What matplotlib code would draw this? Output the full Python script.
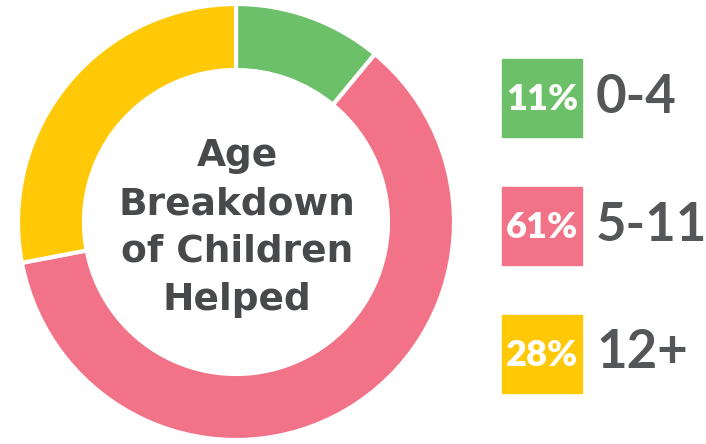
import matplotlib.pyplot as plt
from matplotlib.patches import Rectangle

# data
groups = ["0-4", "5-11", "12+"]
shares = [11, 61, 28]
colors = ["#6cc069", "#f27287", "#ffc907"]
center_title = "Age\nBreakdown\nof Children\nHelped"

W, H = 706, 444
fig = plt.figure(figsize=(W / 100, H / 100), dpi=100)
ax = fig.add_axes([0, 0, 1, 1])

# donut
ax.pie(
    shares,
    colors=colors,
    startangle=90,
    counterclock=False,
    center=(236, H - 222),
    radius=218,
    wedgeprops=dict(width=66, edgecolor="white", linewidth=3),
    frame=True,
)
ax.set_xlim(0, W)
ax.set_ylim(0, H)
ax.set_aspect("equal")
ax.axis("off")

ax.text(237, H - 228, center_title, ha="center", va="center",
        fontsize=27, fontweight="bold", color="#48494b",
        linespacing=1.42, family="DejaVu Sans")

# legend boxes
box_tops = [57, 185, 313]
for top, share, grp, col in zip(box_tops, shares, groups, colors):
    y0 = H - top - 80
    ax.add_patch(Rectangle((502, y0), 80, 78, color=col))
    ax.text(542, y0 + 38, f"{share}%", ha="center", va="center",
            fontsize=26, fontweight="heavy", color="white",
            family="Lato")
    ax.text(596, y0 + 40, grp, ha="left", va="center",
            fontsize=38, fontweight="bold", color="#555658", family="Lato")

fig.savefig("out.png", dpi=100)
